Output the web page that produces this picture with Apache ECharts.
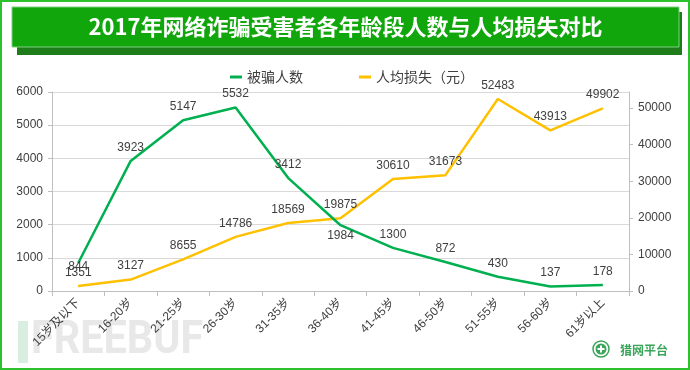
<!DOCTYPE html>
<html>
<head>
<meta charset="utf-8">
<script src="https://cdn.jsdelivr.net/npm/echarts@6/dist/echarts.min.js"></script>
<style>
html,body{margin:0;padding:0;background:#fff;}
#c{width:690px;height:370px;}
</style>
</head>
<body>
<div id="c"></div>
<script>
const titleText = '2017年网络诈骗受害者各年龄段人数与人均损失对比';
const categories = ['15岁及以下','16-20岁','21-25岁','26-30岁','31-35岁','36-40岁','41-45岁','46-50岁','51-55岁','56-60岁','61岁以上'];
const victimCounts = [844, 3923, 5147, 5532, 3412, 1984, 1300, 872, 430, 137, 178];
const avgLoss = [1351, 3127, 8655, 14786, 18569, 19875, 30610, 31673, 52483, 43913, 49902];
const seriesNames = ['被骗人数', '人均损失（元）'];

const GREEN = '#00b050';
const YELLOW = '#ffc000';
const TXT = '#404040';
const FONT = '"Liberation Sans","Noto Sans CJK SC",sans-serif';

// label placement overrides (style only)
const greenLabelOverride = {
  0: {position: 'bottom', distance: -3},
  5: {position: 'bottom', distance: 4}
};

const chart = echarts.init(document.getElementById('c'), null, {renderer: 'canvas'});

const greenData = victimCounts.map((v, i) => {
  const o = {value: v};
  if (greenLabelOverride[i]) o.label = greenLabelOverride[i];
  return o;
});

const plain = v => String(v);

const option = {
  backgroundColor: '#fff',
  animation: false,
  textStyle: {fontFamily: FONT},
  graphic: [
    {type: 'rect', shape: {x: 1, y: 1, width: 688, height: 368}, style: {fill: 'none', stroke: '#2dc22d', lineWidth: 2}, z: 100},
    {type: 'rect', shape: {x: 17, y: 12, width: 665, height: 43}, style: {fill: '#1e7d1a'}},
    {type: 'rect', shape: {x: 12, y: 7, width: 667, height: 40}, style: {fill: '#10a60c', stroke: '#7fd07f', lineWidth: 1}},
    {type: 'text', x: 345.5, y: 27, style: {text: titleText, fill: '#fff', font: 'bold 22px "Noto Sans CJK SC"', textAlign: 'center', textVerticalAlign: 'middle'}},
    // watermark
    {type: 'rect', shape: {x: 18, y: 321, width: 10, height: 42}, style: {fill: '#d9ede1'}, z: -1},
    {type: 'text', x: 31, y: 364, scaleX: 0.9, style: {text: 'FREEBUF', fill: '#e8e8e8', font: 'bold 46px Roboto', textAlign: 'left', textVerticalAlign: 'bottom'}, z: -1},
    // logo
    {type: 'circle', shape: {cx: 601, cy: 349, r: 8}, style: {fill: 'none', stroke: '#3aa55a', lineWidth: 1.5}},
    {type: 'circle', shape: {cx: 601, cy: 349, r: 5.5}, style: {fill: '#3aa55a'}},
    {type: 'rect', shape: {x: 600, y: 345.5, width: 2, height: 7}, style: {fill: '#fff'}},
    {type: 'rect', shape: {x: 597.5, y: 348, width: 7, height: 2}, style: {fill: '#fff'}},
    {type: 'text', x: 620, y: 350, style: {text: '猎网平台', fill: '#3aa55a', font: 'bold 12px "Noto Sans CJK SC"', textAlign: 'left', textVerticalAlign: 'middle'}}
  ],
  legend: {
    left: 225,
    top: 65,
    itemGap: 56,
    itemWidth: 12,
    itemHeight: 3,
    icon: 'rect',
    textStyle: {fontSize: 14, color: TXT, fontFamily: '"Noto Sans CJK SC"'},
    data: seriesNames
  },
  grid: {left: 52, right: 61, top: 92, bottom: 79, containLabel: false},
  xAxis: {
    type: 'category',
    data: categories,
    boundaryGap: true,
    axisLine: {lineStyle: {color: '#bfbfbf'}},
    axisTick: {show: true, length: 5, lineStyle: {color: '#bfbfbf'}},
    axisLabel: {rotate: 45, fontSize: 12, color: TXT, margin: 10, interval: 0, fontFamily: FONT},
    splitLine: {show: false}
  },
  yAxis: [
    {
      type: 'value', min: 0, max: 6000, interval: 1000,
      axisLine: {show: true, lineStyle: {color: '#bfbfbf'}},
      axisTick: {show: true, length: 4, lineStyle: {color: '#bfbfbf'}},
      axisLabel: {fontSize: 12, color: TXT, margin: 9, formatter: plain},
      splitLine: {show: true, lineStyle: {color: '#d9d9d9', width: 1}}
    },
    {
      type: 'value', min: 0, max: 54400, interval: 10000,
      position: 'right',
      axisLine: {show: true, lineStyle: {color: '#bfbfbf'}},
      axisTick: {show: true, length: 4, lineStyle: {color: '#bfbfbf'}},
      axisLabel: {fontSize: 12, color: TXT, margin: 9, showMaxLabel: false, formatter: plain},
      splitLine: {show: false}
    }
  ],
  series: [
    {
      name: seriesNames[0], type: 'line', yAxisIndex: 0,
      data: greenData,
      symbol: 'circle', symbolSize: 1, showSymbol: true,
      itemStyle: {color: GREEN},
      lineStyle: {color: GREEN, width: 2.5},
      label: {show: true, position: 'top', distance: 7, fontSize: 12, color: TXT, fontFamily: FONT},
      emphasis: {disabled: true},
      z: 3
    },
    {
      name: seriesNames[1], type: 'line', yAxisIndex: 1,
      data: avgLoss,
      symbol: 'circle', symbolSize: 1, showSymbol: true,
      itemStyle: {color: YELLOW},
      lineStyle: {color: YELLOW, width: 2.5},
      label: {show: true, position: 'top', distance: 7, fontSize: 12, color: TXT, fontFamily: FONT},
      emphasis: {disabled: true},
      z: 2
    }
  ]
};
chart.setOption(option);
</script>
</body>
</html>
